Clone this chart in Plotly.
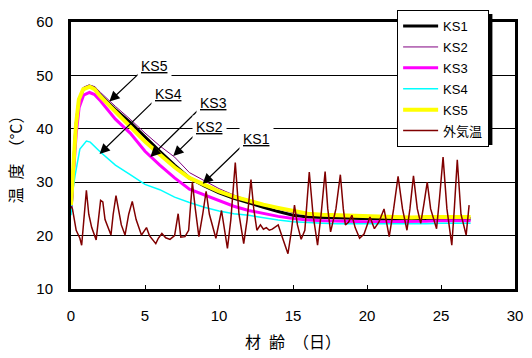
import plotly.graph_objects as go

# ---------------- data ----------------
series_names = ["KS1", "KS2", "KS3", "KS4", "KS5", "外気温"]

ks1_day = [0, 0.2, 0.33, 0.55, 0.85, 1.25, 1.6, 2, 3, 4, 5, 6, 7, 8, 9, 10, 11, 12, 13, 14, 15, 16, 17, 18, 19, 20, 21, 22, 23, 24, 25, 26, 27]
ks1_temp = [24.5, 34, 40.5, 45.5, 47.5, 48, 47.6, 46.2, 43.6, 41.2, 38.4, 35.8, 33.2, 30.8, 29.3, 28.0, 27.0, 26.1, 25.3, 24.5, 23.8, 23.5, 23.4, 23.3, 23.2, 23.1, 23.0, 23.0, 23.0, 23.0, 23.1, 23.1, 23.1]

ks2_day = [0, 0.2, 0.33, 0.55, 0.85, 1.2, 1.6, 2, 3, 4, 5, 6, 7, 8, 9, 10, 11, 12, 13, 14, 15, 16, 17, 18, 19, 20, 21, 22, 23, 24, 25, 26, 27]
ks2_temp = [25, 35, 41, 46, 47.8, 48.2, 47.9, 46.8, 44.2, 41.8, 39.2, 36.8, 34.7, 31.8, 30.3, 28.8, 27.6, 26.6, 25.7, 25.0, 24.3, 23.9, 23.7, 23.6, 23.5, 23.4, 23.3, 23.3, 23.3, 23.4, 23.4, 23.4, 23.4]

ks3_day = [0, 0.2, 0.35, 0.55, 0.85, 1.25, 1.6, 2, 3, 4, 5, 6, 7, 8, 9, 10, 11, 12, 13, 14, 15, 16, 17, 18, 19, 20, 21, 22, 23, 24, 25, 26, 27]
ks3_temp = [25, 33, 39, 44, 46.3, 46.8, 46.4, 45.2, 41.8, 39.2, 35.8, 33.2, 30.8, 28.7, 27.6, 26.5, 25.5, 24.7, 24.1, 23.6, 23.2, 22.9, 22.8, 22.7, 22.7, 22.6, 22.6, 22.6, 22.7, 22.7, 22.8, 22.8, 22.8]

ks4_day = [0, 0.1, 0.27, 0.6, 1.04, 1.3, 2, 3, 4, 5, 6, 7, 8, 9, 10, 11, 12, 13, 14, 15, 16, 17, 18, 19, 20, 21, 22, 23, 24, 25, 26, 27]
ks4_temp = [23.8, 28, 31.2, 36.2, 37.7, 37.5, 35.6, 33.2, 31.4, 29.6, 28.6, 27.2, 26.2, 25.3, 24.6, 24.1, 23.8, 23.3, 22.9, 22.6, 22.4, 22.3, 22.2, 22.2, 22.1, 22.1, 22.1, 22.2, 22.2, 22.3, 22.3, 22.3]

ks5_day = [0, 0.1, 0.22, 0.33, 0.53, 0.82, 1.26, 1.6, 2, 3, 4, 5, 6, 7, 8, 9, 10, 11, 12, 13, 14, 15, 16, 17, 18, 19, 20, 21, 22, 23, 24, 25, 26, 27]
ks5_temp = [25.7, 30, 34.3, 40.5, 45.5, 47.4, 47.9, 47.4, 46.0, 43.2, 40.6, 37.6, 35.2, 32.8, 30.8, 29.5, 28.3, 27.3, 26.5, 25.8, 25.2, 24.7, 24.1, 23.9, 23.8, 23.7, 23.6, 23.5, 23.4, 23.4, 23.5, 23.5, 23.5, 23.5]

air_day = [0.0, 0.1, 0.35, 0.6, 0.72, 0.85, 1.04, 1.2, 1.4, 1.7, 1.85, 2.0, 2.15, 2.3, 2.7, 2.85, 3.04, 3.2, 3.4, 3.65,
           3.9, 4.14, 4.4, 4.76, 5.1, 5.3, 5.73, 5.9, 6.14, 6.4, 6.69, 7.0, 7.24, 7.42, 7.7, 7.95, 8.2, 8.4, 8.64, 8.9,
           9.13, 9.35, 9.79, 10.17, 10.57, 10.8, 11.1, 11.35, 11.67, 11.9, 12.16, 12.35, 12.56, 12.8, 13.0, 13.2, 13.4, 13.6, 14.0, 14.3,
           14.66, 14.9, 15.1, 15.3, 15.55, 15.8, 16.1, 16.35, 16.66, 16.9, 17.17, 17.35, 17.54, 17.9, 18.2, 18.4, 18.54, 18.75, 18.98, 19.2,
           19.5, 19.8, 20.2, 20.5, 20.8, 21.15, 21.5, 21.8, 22.1, 22.4, 22.7, 22.9, 23.14, 23.4, 23.63, 23.85, 24.07, 24.3, 24.7, 24.9,
           25.14, 25.4, 25.73, 25.9, 26.1, 26.35, 26.7, 26.9]
air_temp = [25.5, 25.0, 21.0, 19.5, 18.2, 22.0, 28.5, 24.0, 21.5, 19.2, 23.0, 26.6, 26.3, 23.0, 20.1, 24.0, 27.5, 25.0, 22.0, 20.1,
            24.0, 26.4, 23.0, 20.1, 21.5, 20.0, 18.5, 19.5, 20.4, 19.6, 19.3, 20.0, 24.1, 19.7, 19.8, 21.0, 30.0, 25.0, 19.8, 24.0,
            28.3, 24.0, 19.5, 24.7, 17.6, 23.0, 33.7, 24.0, 18.5, 23.0, 30.5, 25.0, 21.0, 22.0, 21.2, 21.5, 21.0, 21.2, 22.0, 19.5,
            16.6, 21.0, 25.7, 22.0, 19.3, 21.0, 31.9, 24.0, 18.2, 24.0, 32.0, 25.0, 20.7, 25.0, 31.4, 25.0, 22.0, 22.5, 23.8, 21.5,
            19.5, 20.3, 23.5, 21.3, 22.5, 25.0, 19.8, 25.0, 31.1, 25.0, 21.0, 25.0, 31.2, 25.0, 22.3, 26.0, 30.0, 25.0, 21.3, 27.0,
            34.7, 25.0, 18.2, 25.0, 34.2, 24.0, 20.1, 25.7]

x_ticks = [0, 5, 10, 15, 20, 25, 30]
y_ticks = [10, 20, 30, 40, 50, 60]

# label text, arrow head (day, temp), arrow tail (day, temp), label centre (day, temp)
label_text = ["KS5", "KS4", "KS3", "KS2", "KS1"]
label_head = [(2.59, 45.1), (1.93, 35.3), (5.36, 34.7), (6.91, 34.9), (8.9, 29.7)]
label_tail = [(4.72, 50.7), (5.71, 45.5), (8.70, 43.8), (8.50, 39.2), (11.63, 37.0)]
label_pos = [(5.65, 51.8), (6.58, 46.5), (9.63, 44.8), (9.37, 40.3), (12.56, 38.1)]

# ---------------- figure ----------------
fig = go.Figure()
styles = [
    dict(color="#000000", width=3),
    dict(color="#800080", width=1),
    dict(color="#FF00FF", width=3),
    dict(color="#00FFFF", width=1.5),
    dict(color="#FFFF00", width=4),
    dict(color="#800000", width=1.5),
]
data = [(ks1_day, ks1_temp), (ks2_day, ks2_temp), (ks3_day, ks3_temp),
        (ks4_day, ks4_temp), (ks5_day, ks5_temp), (air_day, air_temp)]
for i, (name, (xs, ys)) in enumerate(zip(series_names, data)):
    fig.add_trace(go.Scatter(x=xs, y=ys, mode="lines", name=name, line=styles[i],
                             legendgroup=name))

L, R, T, B = 71, 523, 22, 291
W, H = 532, 358


def px(xp, yp):
    return (xp - L) / (R - L), (B - yp) / (B - T)


for txt, head, tail, pos in zip(label_text, label_head, label_tail, label_pos):
    fig.add_annotation(x=head[0], y=head[1], ax=tail[0], ay=tail[1],
                       xref="x", yref="y", axref="x", ayref="y",
                       text="", showarrow=True, arrowhead=2, arrowsize=1.7,
                       arrowwidth=1.2, arrowcolor="black")
    fig.add_annotation(x=pos[0], y=pos[1], xref="x", yref="y",
                       text="<u>" + txt + "</u>", showarrow=False,
                       font=dict(family="Liberation Sans, Arial", size=14, color="black"),
                       bgcolor="white", borderpad=3,
                       xanchor="center", yanchor="middle")

# legend shadow
sx0, sy0 = px(407, 146)
sx1, sy1 = px(500, 14)
fig.add_shape(type="rect", xref="paper", yref="paper", x0=sx0, y0=sy0, x1=sx1, y1=sy1,
              fillcolor="black", line=dict(width=0), layer="above")

lx, ly = px(403, 10)
fig.update_layout(
    width=W, height=H,
    margin=dict(l=L, r=W - R, t=T, b=H - B, pad=0),
    paper_bgcolor="white", plot_bgcolor="white",
    font=dict(family="Liberation Sans, Arial", size=15, color="black"),
    showlegend=True,
    legend=dict(x=lx, y=ly, xanchor="left", yanchor="top",
                bgcolor="white", bordercolor="black", borderwidth=1,
                font=dict(family="Liberation Sans, Noto Sans CJK JP", size=13, color="black"),
                itemwidth=35, tracegroupgap=1),
    xaxis=dict(range=[0, 30], tickvals=x_ticks, showgrid=False, zeroline=False,
               showline=True, linecolor="black", linewidth=3, mirror=True,
               ticks="inside", ticklen=4, tickcolor="black", tickwidth=1,
               ticklabelstandoff=11,
               title=dict(text="材\u2002齢\u2002（日）", font=dict(family="Noto Sans CJK JP", size=16), standoff=14)),
    yaxis=dict(range=[10, 60], tickvals=y_ticks, showgrid=True, gridcolor="black", gridwidth=1,
               zeroline=False, showline=True, linecolor="black", linewidth=3, mirror=True,
               ticks="", ticklabelstandoff=12,
               title=dict(text="温\u2002度\u2002（°C）", font=dict(family="Noto Sans CJK JP", size=16), standoff=10)),
)

fig.write_html("out.html")
